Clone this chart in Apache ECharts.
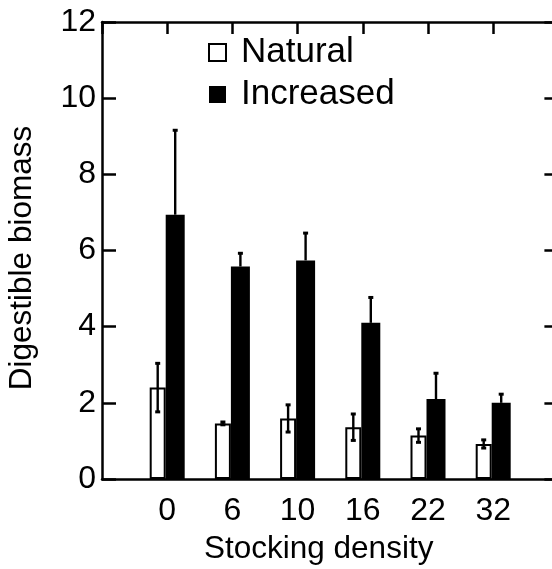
<!DOCTYPE html>
<html>
<head>
<meta charset="utf-8">
<script src="https://cdn.jsdelivr.net/npm/echarts@6/dist/echarts.min.js"></script>
<style>
  html, body { margin: 0; padding: 0; background: #fff; }
  #chart { width: 552px; height: 569px; }
</style>
</head>
<body>
<div id="chart"></div>
<script>
// stocking density groups
const categories = ['0', '6', '10', '16', '22', '32'];
// Natural: mean +/- error
const naturalMean = [2.40, 1.46, 1.59, 1.36, 1.14, 0.92];
const naturalErr = [0.65, 0.05, 0.37, 0.36, 0.19, 0.12];
// Increased: mean + upper error only
const increasedMean = [6.94, 5.58, 5.74, 4.10, 2.10, 2.00];
const increasedErr = [2.23, 0.36, 0.73, 0.68, 0.69, 0.24];
const yTicks = [0, 2, 4, 6, 8, 10, 12];

const FONT = '"Liberation Sans", Arial, Helvetica, sans-serif';
const NAT_W = 16;
const INC_W = 19;

// empty slot on each side so the groups sit where the original puts them
const axisCats = [''].concat(categories, ['']);
const pad = (arr) => [null].concat(arr, [null]);

const errData = (mean, err) => mean.map((m, i) => [i + 1, m, err[i]]);

const errorBars = (dx, upperOnly) => (params, api) => {
  const idx = api.value(0);
  const mean = api.value(1);
  const err = api.value(2);
  const top = api.coord([idx, mean + err]);
  const bot = api.coord([idx, upperOnly ? mean : mean - err]);
  const x = top[0] + dx;
  const style = { fill: '#000', stroke: null };
  const children = [
    { type: 'rect', shape: { x: x - 1.2, y: top[1], width: 2.4, height: bot[1] - top[1] }, style },
    { type: 'rect', shape: { x: x - 2.5, y: top[1] - 1, width: 5, height: 3 }, style },
  ];
  if (!upperOnly) {
    children.push({ type: 'rect', shape: { x: x - 2.5, y: bot[1] - 2, width: 5, height: 3 }, style });
  }
  return { type: 'group', children };
};

const chart = echarts.init(document.getElementById('chart'));

const axisLine = { show: true, onZero: false, lineStyle: { color: '#000', width: 2.5 } };
const tickStyle = { color: '#000', width: 2.5 };

chart.setOption({
  animation: false,
  backgroundColor: '#fff',
  textStyle: { fontFamily: FONT },
  grid: { left: 102, top: 22, right: -6.4, bottom: 90, outerBoundsMode: 'none' },
  legend: {
    data: ['Natural', 'Increased'],
    orient: 'vertical',
    left: 208,
    top: 34,
    padding: 0,
    icon: 'rect',
    itemWidth: 17,
    itemHeight: 17,
    itemGap: 5,
    textStyle: { fontFamily: FONT, fontSize: 35, color: '#000', lineHeight: 37, padding: [0, 0, 0, 10] },
  },
  xAxis: [
    {
      type: 'category',
      data: axisCats,
      boundaryGap: false,
      position: 'bottom',
      axisLine,
      axisTick: { show: false },
      axisLabel: { interval: 0, fontSize: 32, color: '#000', fontFamily: FONT, margin: 16 },
      name: 'Stocking density',
      nameLocation: 'middle',
      nameGap: 54,
      nameTextStyle: { fontSize: 31.5, color: '#000', fontFamily: FONT, padding: [0, 23, 0, 0] },
      splitLine: { show: false },
    },
    {
      type: 'category',
      data: axisCats,
      boundaryGap: false,
      position: 'top',
      axisLine,
      axisTick: { show: true, inside: true, length: 12, interval: 0, lineStyle: tickStyle },
      axisLabel: { show: false },
      splitLine: { show: false },
    },
  ],
  yAxis: [
    {
      type: 'value',
      position: 'left',
      min: yTicks[0],
      max: yTicks[yTicks.length - 1],
      interval: 2,
      axisLine,
      axisTick: { show: true, inside: true, length: 14, lineStyle: tickStyle },
      axisLabel: { fontSize: 32, color: '#000', fontFamily: FONT, margin: 6 },
      name: 'Digestible biomass',
      nameLocation: 'middle',
      nameGap: 64,
      nameTextStyle: { fontSize: 31.5, color: '#000', fontFamily: FONT, padding: [0, 15, 0, 0] },
      splitLine: { show: false },
    },
    {
      type: 'value',
      position: 'right',
      min: yTicks[0],
      max: yTicks[yTicks.length - 1],
      interval: 2,
      axisLine,
      axisTick: { show: true, inside: true, length: 14, lineStyle: tickStyle },
      axisLabel: { show: false },
      splitLine: { show: false },
    },
  ],
  series: [
    {
      name: 'Natural',
      type: 'bar',
      data: pad(naturalMean),
      barWidth: NAT_W,
      barGap: '0%',
      itemStyle: { color: '#fff', borderColor: '#000', borderWidth: 2 },
      z: 2,
    },
    {
      name: 'Increased',
      type: 'bar',
      data: pad(increasedMean),
      barWidth: INC_W,
      barGap: '0%',
      itemStyle: { color: '#000' },
      z: 1,
    },
    {
      type: 'custom',
      name: 'natErr',
      data: errData(naturalMean, naturalErr),
      encode: { x: 0, y: 1 },
      renderItem: errorBars(-(NAT_W + INC_W) / 2 + NAT_W / 2, false),
      z: 5,
    },
    {
      type: 'custom',
      name: 'incErr',
      data: errData(increasedMean, increasedErr),
      encode: { x: 0, y: 1 },
      renderItem: errorBars((NAT_W + INC_W) / 2 - INC_W / 2, true),
      z: 5,
    },
  ],
});
</script>
</body>
</html>
